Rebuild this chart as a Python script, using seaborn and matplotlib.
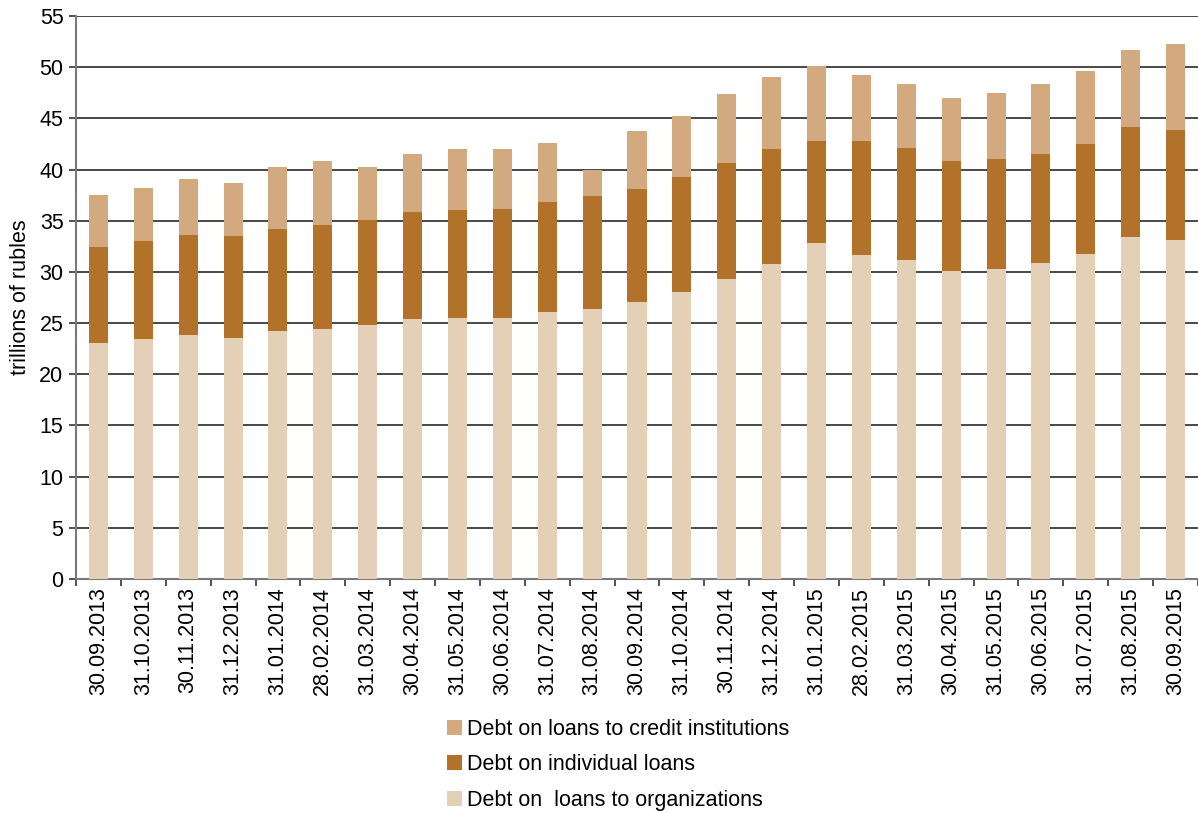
import matplotlib
matplotlib.use("Agg")
import matplotlib.pyplot as plt
from matplotlib.patches import Patch
from matplotlib.ticker import FixedLocator, MultipleLocator
import numpy as np
import pandas as pd
import seaborn as sns

dates = [
    "30.09.2013", "31.10.2013", "30.11.2013", "31.12.2013", "31.01.2014",
    "28.02.2014", "31.03.2014", "30.04.2014", "31.05.2014", "30.06.2014",
    "31.07.2014", "31.08.2014", "30.09.2014", "31.10.2014", "30.11.2014",
    "31.12.2014", "31.01.2015", "28.02.2015", "31.03.2015", "30.04.2015",
    "31.05.2015", "30.06.2015", "31.07.2015", "31.08.2015", "30.09.2015",
]

# trillions of rubles
organizations = [23.05, 23.45, 23.8, 23.5, 24.2, 24.4, 24.8, 25.4, 25.5, 25.5,
                 26.1, 26.4, 27.05, 28.05, 29.3, 30.8, 32.8, 31.65, 31.2, 30.1,
                 30.3, 30.9, 31.75, 33.4, 33.1]
individuals = [9.35, 9.55, 9.8, 10.0, 10.0, 10.2, 10.3, 10.45, 10.55, 10.65,
               10.7, 11.0, 11.05, 11.25, 11.3, 11.2, 10.0, 11.15, 10.9, 10.7,
               10.7, 10.6, 10.75, 10.8, 10.8]
credit_institutions = [5.1, 5.2, 5.5, 5.2, 6.05, 6.2, 5.15, 5.65, 5.95, 5.85,
                       5.8, 2.6, 5.7, 5.9, 6.8, 7.05, 7.3, 6.4, 6.3, 6.2,
                       6.5, 6.9, 7.1, 7.5, 8.4]

label_credit = "Debt on loans to credit institutions"
label_indiv = "Debt on individual loans"
label_org = "Debt on  loans to organizations"

c_org = "#E4D0B6"
c_ind = "#B3722A"
c_cred = "#D3AA7F"

df = pd.DataFrame({
    "date": dates,
    "org": organizations,
    "ind": individuals,
    "cred": credit_institutions,
})
df["org_ind"] = df["org"] + df["ind"]
df["total"] = df["org_ind"] + df["cred"]

sns.set_style("white")
plt.rcParams["font.family"] = ["Liberation Sans", "DejaVu Sans"]
plt.rcParams["text.color"] = "black"
plt.rcParams["axes.labelcolor"] = "black"
plt.rcParams["xtick.color"] = "#333333"
plt.rcParams["ytick.color"] = "#333333"
plt.rcParams["xtick.labelcolor"] = "black"
plt.rcParams["ytick.labelcolor"] = "black"

fig = plt.figure(figsize=(11.98, 8.13), dpi=100)
ax = fig.add_axes([76 / 1198, (813 - 579) / 813, 1122 / 1198, (579 - 16) / 813])

# stacked bars: draw cumulative heights back to front
bw = 0.425
bar_kw = dict(width=bw, saturation=1, ax=ax, zorder=3,
              edgecolor="none", linewidth=0)
sns.barplot(data=df, x="date", y="total", color=c_cred, **bar_kw)
sns.barplot(data=df, x="date", y="org_ind", color=c_ind, **bar_kw)
sns.barplot(data=df, x="date", y="org", color=c_org, **bar_kw)

ax.set_xlim(-0.5, len(dates) - 0.5)
ax.set_ylim(0, 55)
ax.yaxis.set_major_locator(MultipleLocator(5))

ax.yaxis.grid(True, color="#3a3a3a", linewidth=1.3, zorder=0)
ax.xaxis.grid(False)
ax.set_axisbelow(True)

for side in ["top", "right"]:
    ax.spines[side].set_visible(False)
for side in ["left", "bottom"]:
    ax.spines[side].set_color("#7a7a7a")
    ax.spines[side].set_linewidth(1.5)

ax.tick_params(axis="y", which="major", direction="out", length=5, width=1.2,
               pad=4, labelsize=15.5, left=True)
ax.tick_params(axis="x", which="major", length=0, pad=6, labelsize=15.5,
               labelrotation=90)
ax.xaxis.set_minor_locator(FixedLocator(np.arange(-0.5, len(dates), 1.0)))
ax.tick_params(axis="x", which="minor", direction="out", length=5, width=1.2,
               bottom=True)

ax.set_xlabel("")
ax.set_ylabel("trillions of rubles", fontsize=15.5, labelpad=6)

handles = [Patch(facecolor=c_cred, edgecolor="none"),
           Patch(facecolor=c_ind, edgecolor="none"),
           Patch(facecolor=c_org, edgecolor="none")]
fig.legend(handles, [label_credit, label_indiv, label_org],
           loc="upper left", bbox_to_anchor=(438 / 1198, (813 - 710) / 813),
           frameon=False, fontsize=15.5, handlelength=0.7, handleheight=0.7,
           handletextpad=0.25, labelspacing=0.68, borderaxespad=0)

fig.savefig("out.png", dpi=100)
